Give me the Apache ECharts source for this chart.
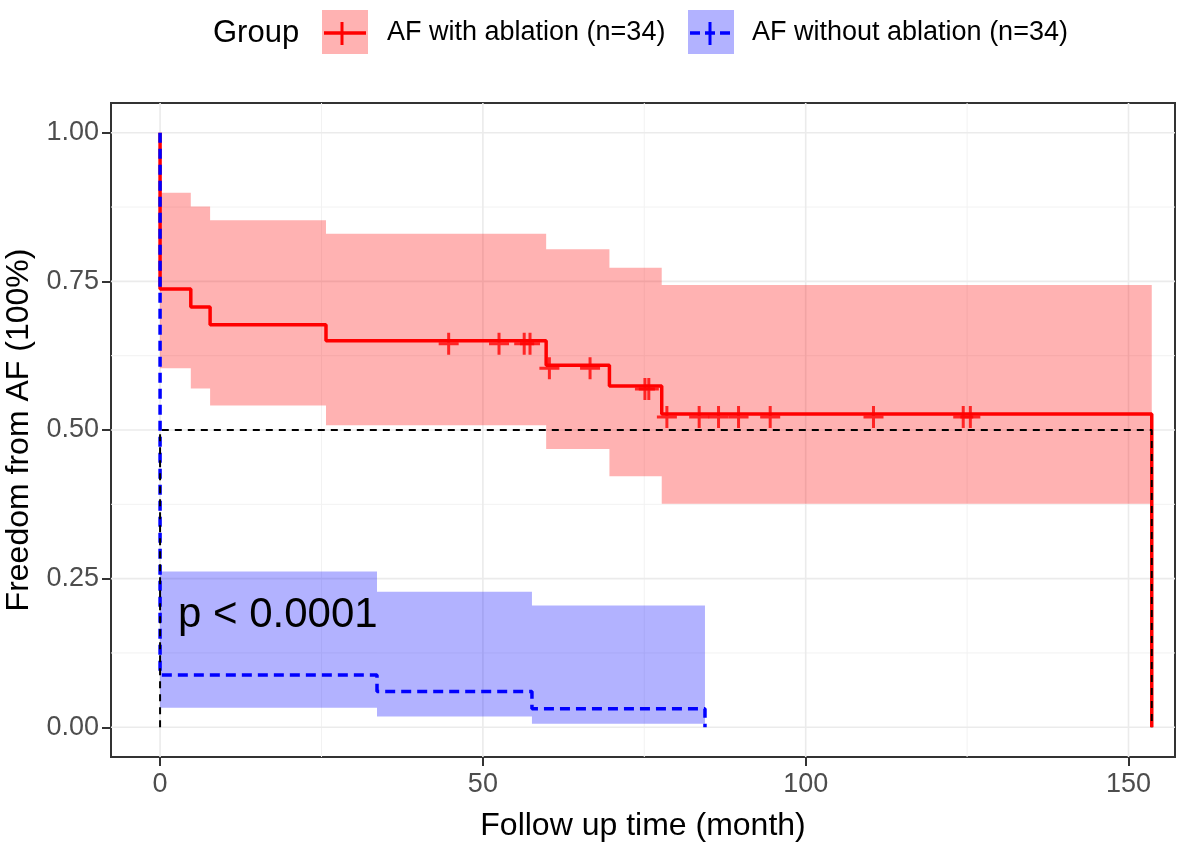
<!DOCTYPE html>
<html>
<head>
<meta charset="utf-8">
<script src="https://cdn.jsdelivr.net/npm/echarts@6/dist/echarts.min.js"></script>
<style>
  html, body { margin: 0; padding: 0; background: #fff; }
  #chart { width: 1181px; height: 846px; }
</style>
</head>
<body>
<div id="chart"></div>
<script>
// Kaplan-Meier estimates (time in months)
var redTimes = [0, 4.76, 7.75, 25.7, 59.8, 69.6, 77.7];
var redSurv = [0.737, 0.707, 0.677, 0.650, 0.609, 0.574, 0.527];
var redUpper = [0.899, 0.876, 0.853, 0.830, 0.804, 0.773, 0.744];
var redLower = [0.604, 0.570, 0.541, 0.508, 0.468, 0.422, 0.376];
var redEnd = 153.6;
var redCensor = [44.7, 52.5, 56.4, 57.3, 60.3, 66.6, 75.1, 75.7, 78.5, 83.5, 86.5, 89.6, 94.5, 110.5, 124.4, 125.5];

var blueTimes = [0, 33.6, 57.6];
var blueSurv = [0.088, 0.060, 0.031];
var blueUpper = [0.262, 0.228, 0.205];
var blueLower = [0.033, 0.018, 0.006];
var blueEnd = 84.4;

var medianSurv = 0.5;
var medianTimes = [0, 153.6];

var xTicks = [0, 50, 100, 150];
var xMinor = [25, 75, 125];
var yTicks = [0, 0.25, 0.5, 0.75, 1];
var yMinor = [0.125, 0.375, 0.625, 0.875];

var FONT = "'Liberation Sans', Arial, sans-serif";

function stepData(times, surv, end) {
  var d = [[0, 1]];
  for (var i = 0; i < times.length; i++) d.push([times[i], surv[i]]);
  d.push([end, 0]);
  return d;
}

function survAt(times, surv, t) {
  var s = 1;
  for (var i = 0; i < times.length; i++) if (times[i] <= t) s = surv[i];
  return s;
}

// confidence band as a single stepped polygon
function bandRender(times, up, lo, end) {
  return function (params, api) {
    var pts = [];
    var n = times.length;
    for (var i = 0; i < n; i++) {
      var t1 = i < n - 1 ? times[i + 1] : end;
      pts.push(api.coord([times[i], up[i]]));
      pts.push(api.coord([t1, up[i]]));
    }
    for (var j = n - 1; j >= 0; j--) {
      var t2 = j < n - 1 ? times[j + 1] : end;
      pts.push(api.coord([t2, lo[j]]));
      pts.push(api.coord([times[j], lo[j]]));
    }
    return { type: 'polygon', shape: { points: pts }, style: { fill: api.visual('color') } };
  };
}

function gridRender(params, api) {
  var kids = [];
  function vline(x, w, c) {
    var a = api.coord([x, -0.05]), b = api.coord([x, 1.05]);
    kids.push({ type: 'line', shape: { x1: a[0], y1: a[1], x2: b[0], y2: b[1] }, style: { stroke: c, lineWidth: w } });
  }
  function hline(y, w, c) {
    var a = api.coord([-7.6, y]), b = api.coord([157.2, y]);
    kids.push({ type: 'line', shape: { x1: a[0], y1: a[1], x2: b[0], y2: b[1] }, style: { stroke: c, lineWidth: w } });
  }
  xMinor.forEach(function (v) { vline(v, 1, '#f2f2f2'); });
  yMinor.forEach(function (v) { hline(v, 1, '#f2f2f2'); });
  xTicks.forEach(function (v) { vline(v, 1.6, '#ebebeb'); });
  yTicks.forEach(function (v) { hline(v, 1.6, '#ebebeb'); });
  return { type: 'group', children: kids };
}

var plusPath = 'path://M8.5,0h3v9.5h8.5v3h-8.5v9.5h-3v-9.5h-8.5v-3h8.5z';

var chart = echarts.init(document.getElementById('chart'));
var option = {
  animation: false,
  backgroundColor: '#ffffff',
  grid: {
    left: 111, right: 6, top: 103, bottom: 89,
    outerBoundsMode: 'none', containLabel: false,
    show: true, borderColor: '#333333', borderWidth: 2
  },
  xAxis: {
    type: 'value', min: -7.6, max: 157.2,
    name: 'Follow up time (month)', nameLocation: 'middle', nameGap: 53,
    nameTextStyle: { fontSize: 32, color: '#000', fontFamily: FONT },
    axisLine: { show: false, onZero: false },
    axisTick: { show: true, length: 9, customValues: xTicks, lineStyle: { color: '#333', width: 2 } },
    axisLabel: { customValues: xTicks, margin: 14, fontSize: 27, color: '#4d4d4d', fontFamily: FONT },
    splitLine: { show: false }
  },
  yAxis: {
    type: 'value', min: -0.05, max: 1.05,
    name: 'Freedom from AF (100%)', nameLocation: 'middle', nameGap: 69,
    nameTextStyle: { fontSize: 32, color: '#000', fontFamily: FONT },
    axisLine: { show: false, onZero: false },
    axisTick: { show: true, length: 9, customValues: yTicks, lineStyle: { color: '#333', width: 2 } },
    axisLabel: {
      customValues: yTicks, margin: 12, fontSize: 27, color: '#4d4d4d', fontFamily: FONT,
      formatter: function (v) { return v.toFixed(2); }
    },
    splitLine: { show: false }
  },
  series: [
    {
      name: 'gridlines', type: 'custom', z: 0, silent: true,
      data: [[0, 0]], renderItem: gridRender
    },
    {
      name: 'band1', type: 'custom', z: 1, silent: true,
      itemStyle: { color: 'rgba(255,0,0,0.3)' },
      data: [[0, 0]], renderItem: bandRender(redTimes, redUpper, redLower, redEnd)
    },
    {
      name: 'band2', type: 'custom', z: 1, silent: true,
      itemStyle: { color: 'rgba(0,0,255,0.3)' },
      data: [[0, 0]], renderItem: bandRender(blueTimes, blueUpper, blueLower, blueEnd)
    },
    {
      name: 'AF with ablation (n=34)', type: 'line', step: 'end', z: 2,
      showSymbol: false, symbol: 'none',
      lineStyle: { color: '#ff0000', width: 3.5 },
      data: stepData(redTimes, redSurv, redEnd)
    },
    {
      name: 'AF without ablation (n=34)', type: 'line', step: 'end', z: 3,
      showSymbol: false, symbol: 'none',
      lineStyle: { color: '#0000ff', width: 3.5, type: [10, 6] },
      data: stepData(blueTimes, blueSurv, blueEnd)
    },
    {
      name: 'censor', type: 'scatter', z: 4,
      symbol: plusPath, symbolSize: [20, 22], symbolOffset: [0, 3],
      itemStyle: { color: '#ff0000' },
      data: redCensor.map(function (t) { return [t, survAt(redTimes, redSurv, t)]; })
    },
    {
      name: 'median', type: 'line', z: 5, symbol: 'none',
      lineStyle: { color: '#000', width: 2, type: [7, 6] },
      data: [[medianTimes[0], 0], [medianTimes[0], medianSurv], [medianTimes[1], medianSurv], [medianTimes[1], 0]]
    }
  ],
  graphic: [
    { type: 'text', x: 213, y: 33, style: { text: 'Group', fontSize: 31, fontFamily: FONT, fill: '#000', verticalAlign: 'middle' } },
    { type: 'rect', shape: { x: 322, y: 10, width: 46, height: 44 }, style: { fill: 'rgba(255,0,0,0.3)' } },
    { type: 'line', shape: { x1: 324, y1: 33, x2: 366, y2: 33 }, style: { stroke: '#ff0000', lineWidth: 3.5 } },
    { type: 'line', shape: { x1: 342, y1: 22, x2: 342, y2: 45 }, style: { stroke: '#ff0000', lineWidth: 3 } },
    { type: 'text', x: 387, y: 33, style: { text: 'AF with ablation (n=34)', fontSize: 27, fontFamily: FONT, fill: '#000', verticalAlign: 'middle' } },
    { type: 'rect', shape: { x: 688, y: 10, width: 46, height: 44 }, style: { fill: 'rgba(0,0,255,0.3)' } },
    { type: 'line', shape: { x1: 690, y1: 33, x2: 732, y2: 33 }, style: { stroke: '#0000ff', lineWidth: 3.5, lineDash: [10, 5] } },
    { type: 'line', shape: { x1: 710, y1: 22, x2: 710, y2: 45 }, style: { stroke: '#0000ff', lineWidth: 3 } },
    { type: 'text', x: 752, y: 33, style: { text: 'AF without ablation (n=34)', fontSize: 27, fontFamily: FONT, fill: '#000', verticalAlign: 'middle' } },
    { type: 'text', x: 178, y: 615, z: 10, style: { text: 'p < 0.0001', fontSize: 42, fontFamily: FONT, fill: '#000', verticalAlign: 'middle' } }
  ]
};
chart.setOption(option);
</script>
</body>
</html>
